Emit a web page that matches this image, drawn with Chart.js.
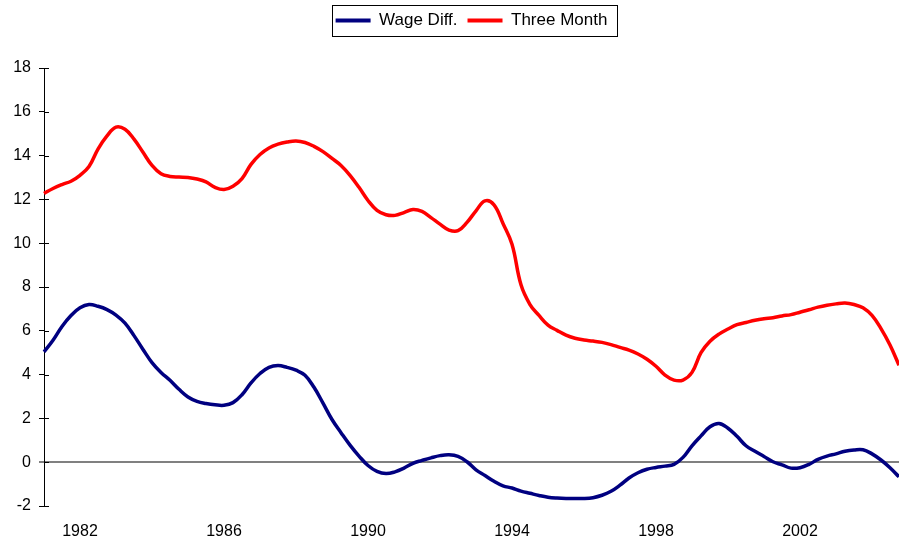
<!DOCTYPE html>
<html>
<head>
<meta charset="utf-8">
<script src="https://cdn.jsdelivr.net/npm/chart.js@4.4.1/dist/chart.umd.min.js"></script>
<style>
  html, body { margin: 0; padding: 0; background: #fff; }
  #wrap { width: 899px; height: 541px; }
</style>
</head>
<body>
<div id="wrap"><canvas id="rateChart" width="899" height="541"></canvas></div>
<script>
// Kwartaaldata 1981 Q1 t/m 2004 Q4
const firstYear = 1981;
const quarterCount = 96;
const yearTicks = [1982, 1986, 1990, 1994, 1998, 2002];

const wageDiff = [
  5.04, 5.57, 6.2, 6.7, 7.05, 7.2, 7.12, 6.97, 6.72, 6.35, 5.78, 5.15,
  4.55, 4.1, 3.74, 3.33, 2.98, 2.78, 2.68, 2.62, 2.6, 2.72, 3.08, 3.62,
  4.05, 4.33, 4.41, 4.33, 4.2, 3.97, 3.42, 2.7, 1.95, 1.35, 0.78, 0.28,
  -0.15, -0.42, -0.52, -0.44, -0.27, -0.05, 0.08, 0.2, 0.3, 0.34, 0.27, 0.02,
  -0.35, -0.61, -0.87, -1.08, -1.18, -1.32, -1.42, -1.52, -1.6, -1.64, -1.66, -1.66,
  -1.66, -1.62, -1.51, -1.33, -1.05, -0.72, -0.48, -0.32, -0.24, -0.18, -0.1, 0.22,
  0.75, 1.2, 1.62, 1.77, 1.55, 1.18, 0.75, 0.5, 0.26, 0.02, -0.12, -0.27,
  -0.25, -0.1, 0.13, 0.28, 0.38, 0.5, 0.56, 0.57, 0.38, 0.1, -0.25, -0.67
];

const threeMonth = [
  12.27, 12.5, 12.68, 12.83, 13.1, 13.5, 14.3, 14.9, 15.3, 15.2, 14.75, 14.15,
  13.55, 13.17, 13.05, 13.02, 13.0, 12.93, 12.8, 12.55, 12.45, 12.6, 12.95, 13.6,
  14.05, 14.35, 14.52, 14.62, 14.67, 14.6, 14.42, 14.18, 13.87, 13.55, 13.1, 12.55,
  11.95, 11.5, 11.3, 11.27, 11.4, 11.54, 11.45, 11.17, 10.87, 10.6, 10.57, 10.95,
  11.48, 11.93, 11.75, 10.9, 9.95, 8.1, 7.2, 6.7, 6.26, 6.02, 5.8, 5.66,
  5.58, 5.53, 5.47, 5.37, 5.24, 5.12, 4.94, 4.7, 4.38, 3.98, 3.75, 3.75,
  4.1, 5.0, 5.52, 5.85, 6.08, 6.28, 6.38, 6.48, 6.55, 6.6, 6.68, 6.74,
  6.85, 6.96, 7.08, 7.17, 7.23, 7.27, 7.2, 7.05, 6.7, 6.1, 5.35, 4.43
];

// Labels per kwartaal
const quarterLabels = [];
for (let i = 0; i < quarterCount; i++) {
  quarterLabels.push(firstYear + Math.floor(i / 4) + " Q" + ((i % 4) + 1));
}

const FONT = 'Arial, "Liberation Sans", sans-serif';

// Excel-achtige details: kruisende tickjes, kader rond legenda, ruimte onder legenda
const excelLook = {
  id: "excelLook",
  afterInit(chart) {
    const legend = chart.legend;
    const fit = legend.fit;
    legend.fit = function () {
      fit.call(this);
      this.height = 66;
    };
  },
  afterDraw(chart) {
    const { ctx, chartArea } = chart;
    const y = chart.scales.y;
    ctx.save();
    ctx.strokeStyle = "#000";
    ctx.lineWidth = 1;
    y.ticks.forEach((t) => {
      const py = Math.round(y.getPixelForValue(t.value)) + 0.5;
      ctx.beginPath();
      ctx.moveTo(chartArea.left, py);
      ctx.lineTo(chartArea.left + 5, py);
      ctx.stroke();
    });

    const boxes = chart.legend.legendHitBoxes;
    if (boxes && boxes.length) {
      const left = Math.min(...boxes.map((b) => b.left)) - 4;
      const right = Math.max(...boxes.map((b) => b.left + b.width)) + 9;
      const cy = boxes[0].top + boxes[0].height / 2;
      ctx.strokeRect(Math.round(left) + 0.5, Math.round(cy - 15.5) + 0.5, Math.round(right - left), 31);
    }
    ctx.restore();
  },
};

const ctx = document.getElementById("rateChart").getContext("2d");

new Chart(ctx, {
  type: "line",
  data: {
    labels: quarterLabels,
    datasets: [
      {
        label: "Wage Diff.",
        data: wageDiff,
        borderColor: "#000080",
        backgroundColor: "#000080",
        borderWidth: 3.5,
        pointRadius: 0,
        tension: 0.4,
        fill: false,
      },
      {
        label: "Three Month",
        data: threeMonth,
        borderColor: "#ff0000",
        backgroundColor: "#ff0000",
        borderWidth: 3.5,
        pointRadius: 0,
        tension: 0.4,
        fill: false,
      },
    ],
  },
  options: {
    responsive: false,
    animation: false,
    devicePixelRatio: 1,
    layout: { padding: { top: 2, left: 0, right: 0, bottom: 0 } },
    plugins: {
      tooltip: { enabled: false },
      legend: {
        position: "top",
        fullSize: false,
        labels: {
          color: "#000",
          font: { family: FONT, size: 17 },
          boxWidth: 35,
          boxHeight: 4,
          padding: 10,
          generateLabels(chart) {
            return Chart.defaults.plugins.legend.labels
              .generateLabels(chart)
              .map((l) => ({ ...l, fillStyle: l.strokeStyle, lineWidth: 0 }));
          },
        },
      },
    },
    scales: {
      x: {
        type: "category",
        offset: false,
        grid: { display: false, drawTicks: true, tickLength: 16 },
        border: { display: false },
        ticks: {
          autoSkip: false,
          maxRotation: 0,
          minRotation: 0,
          padding: 0,
          color: "#000",
          font: { family: FONT, size: 16 },
          callback(value, index) {
            const year = firstYear + Math.floor(index / 4);
            return index % 4 === 0 && yearTicks.includes(year) ? String(year) : "";
          },
        },
        afterFit(scale) {
          scale.height = 35;
        },
      },
      y: {
        min: -2,
        max: 18,
        ticks: {
          stepSize: 2,
          padding: 8,
          color: "#000",
          font: { family: FONT, size: 16 },
        },
        border: { display: true, color: "#000", width: 1 },
        grid: {
          drawOnChartArea: true,
          color: (c) => (c.tick && c.tick.value === 0 ? "#808080" : "rgba(0,0,0,0)"),
          lineWidth: (c) => (c.tick && c.tick.value === 0 ? 2 : 1),
          tickColor: "#000",
          tickWidth: 1,
          tickLength: 5,
        },
        afterFit(scale) {
          scale.width = 44;
        },
      },
    },
  },
  plugins: [excelLook],
});
</script>
</body>
</html>
